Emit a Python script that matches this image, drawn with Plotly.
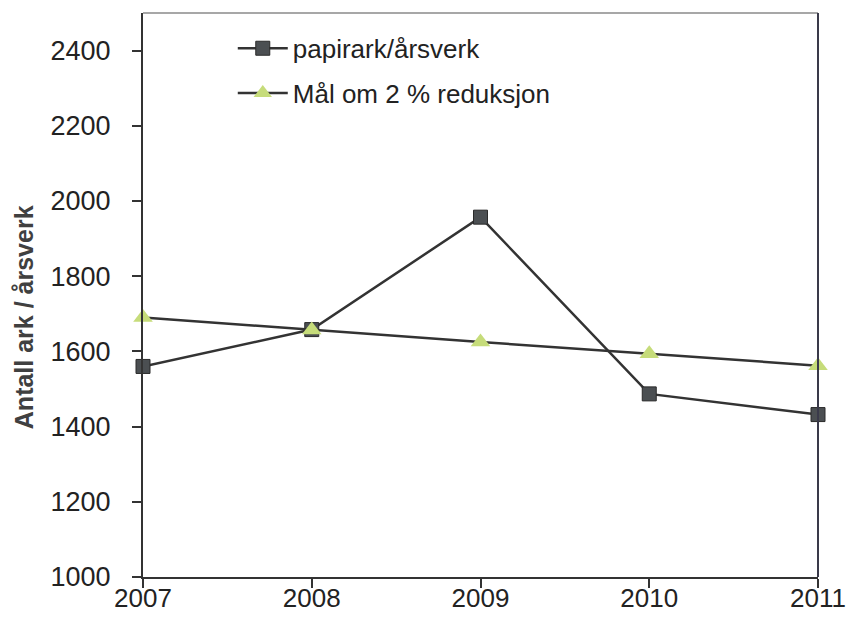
import plotly.graph_objects as go

years = [2007, 2008, 2009, 2010, 2011]
papirark = [1560, 1658, 1957, 1487, 1432]
maal = [1690, 1657, 1625, 1594, 1562]
y_ticks = [1000, 1200, 1400, 1600, 1800, 2000, 2200, 2400]

line_col = "#333333"
font_fam = "Liberation Sans, Arial, sans-serif"

fig = go.Figure()
fig.add_trace(go.Scatter(
    x=years, y=papirark, mode="lines+markers", name="papirark/årsverk",
    legendgroup="a", cliponaxis=False,
    line=dict(color=line_col, width=2.5),
    marker=dict(symbol="square", size=14, color="#4b4f52",
                line=dict(color="#2a2a2a", width=1)),
))
fig.add_trace(go.Scatter(
    x=years, y=maal, mode="lines+markers", name="Mål om 2 % reduksjon",
    legendgroup="b", cliponaxis=False,
    line=dict(color=line_col, width=2.5),
    marker=dict(symbol="triangle-up", size=17, color="#c6dc7a",
                line=dict(width=0)),
))

# top and right frame lines of the plot area
fig.add_shape(type="line", xref="paper", yref="paper", x0=0, x1=1, y0=1, y1=1,
              line=dict(color="#8a8a8a", width=1.5))
fig.add_shape(type="line", xref="paper", yref="paper", x0=1, x1=1, y0=0, y1=1,
              line=dict(color="#3a3a4a", width=2))

# y-axis title
fig.add_annotation(text="<b>Antall ark / årsverk</b>", xref="paper", yref="paper",
                   x=-0.176, y=0.461, xanchor="center", yanchor="middle",
                   textangle=-90, showarrow=False,
                   font=dict(size=25, family=font_fam, color="#404040"))

fig.update_layout(
    width=846, height=622,
    margin=dict(l=143, r=28, t=13, b=45),
    paper_bgcolor="white", plot_bgcolor="white",
    font=dict(family=font_fam, color="#222222"),
    showlegend=True,
    legend=dict(x=0.133, y=0.979, xanchor="left", yanchor="top",
                font=dict(size=26, family=font_fam, color="#222222"),
                bgcolor="rgba(0,0,0,0)", traceorder="grouped",
                tracegroupgap=8, itemwidth=50),
    xaxis=dict(range=[2007, 2011], tickvals=years, ticktext=[str(y) for y in years],
               showgrid=False, zeroline=False, showline=True, linecolor="#333333",
               linewidth=2, ticks="outside", ticklen=9, tickwidth=1.5, tickcolor="#333333",
               automargin=False, ticklabeloverflow="allow", ticklabelstandoff=-12,
               tickfont=dict(size=26, family=font_fam, color="#222222")),
    yaxis=dict(range=[1000, 2500], tickvals=y_ticks, showgrid=False, zeroline=False,
               showline=True, linecolor="#333333", linewidth=2, ticks="outside",
               ticklen=9, tickwidth=1.5, tickcolor="#333333", automargin=False,
               ticklabelstandoff=16,
               tickfont=dict(size=27, family=font_fam, color="#222222")),
)

fig.write_html("out.html")
